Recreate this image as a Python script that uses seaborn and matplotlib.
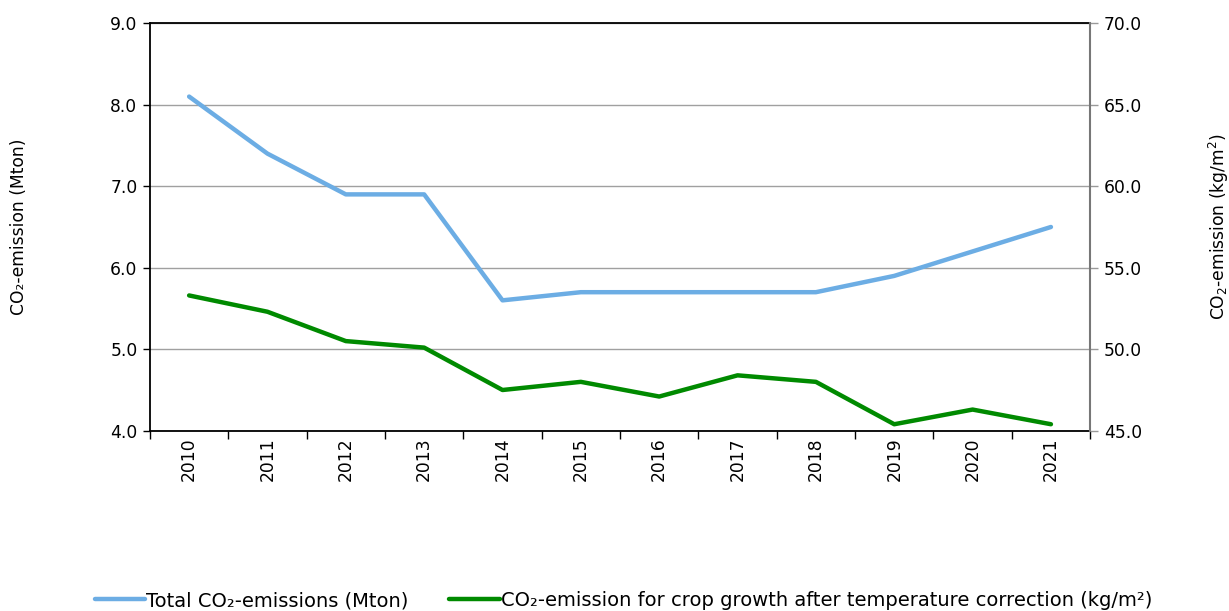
# -*- coding: utf-8 -*-

import numpy as np
import pandas as pd
import matplotlib
matplotlib.use('Agg')
import matplotlib.pyplot as plt
import seaborn as sns

# Data
years = [2010, 2011, 2012, 2013, 2014, 2015, 2016, 2017, 2018, 2019, 2020, 2021]
total_mton = [8.1, 7.4, 6.9, 6.9, 5.6, 5.7, 5.7, 5.7, 5.7, 5.9, 6.2, 6.5]
crop_kg_m2 = [53.3, 52.3, 50.5, 50.1, 47.5, 48.0, 47.1, 48.4, 48.0, 45.4, 46.3, 45.4]

label_total = 'Total CO\u2082-emissions (Mton)'
label_crop = 'CO\u2082-emission for crop growth after temperature correction (kg/m\u00b2)'

df = pd.DataFrame({'year': years, 'total': total_mton, 'crop': crop_kg_m2})

sns.set_style('white')
plt.rcParams['font.family'] = ['DejaVu Sans']
plt.rcParams['text.color'] = 'black'
plt.rcParams['axes.labelcolor'] = 'black'
plt.rcParams['xtick.color'] = 'black'
plt.rcParams['ytick.color'] = 'black'

blue = '#6cade4'
green = '#008a00'
fs = 12.3

fig = plt.figure(figsize=(12.29, 6.11), dpi=100)
ax = fig.add_axes([0.122, 0.295, 0.765, 0.667])
ax2 = ax.twinx()

# Left axis: total emissions
sns.lineplot(data=df, x='year', y='total', ax=ax, color=blue,
             linewidth=3.2, label=label_total, legend=False)
# Right axis: crop growth emission
sns.lineplot(data=df, x='year', y='crop', ax=ax2, color=green,
             linewidth=3.2, label=label_crop, legend=False)

ax.set_xlim(2009.5, 2021.5)
ax.set_ylim(4.0, 9.0)
ax2.set_ylim(45.0, 70.0)

ax.set_yticks(np.arange(4.0, 9.01, 1.0))
ax.set_yticklabels(['{:.1f}'.format(v) for v in np.arange(4.0, 9.01, 1.0)])
ax2.set_yticks(np.arange(45.0, 70.01, 5.0))
ax2.set_yticklabels(['{:.1f}'.format(v) for v in np.arange(45.0, 70.01, 5.0)])

# Year labels centred, tick marks on category boundaries
ax.set_xticks(years)
ax.set_xticklabels([str(y) for y in years], rotation=90)
ax.set_xticks(np.arange(2009.5, 2021.6, 1.0), minor=True)
ax.tick_params(axis='x', which='major', length=0, pad=5, labelsize=fs)
ax.tick_params(axis='x', which='minor', length=6, width=1, color='black',
               bottom=True)
ax.tick_params(axis='y', length=5, width=1, color='black', left=True,
               labelsize=fs, pad=4)
ax2.tick_params(axis='y', length=6, width=1, color='#999999', right=True,
                labelsize=fs, pad=4, labelcolor='black')

# Grid and spines
ax.yaxis.grid(True, color='#a0a0a0', linewidth=1)
ax.set_axisbelow(True)
for side in ['left', 'bottom', 'top']:
    ax.spines[side].set_color('black')
    ax.spines[side].set_linewidth(1.3)
ax.spines['right'].set_visible(False)
ax2.spines['right'].set_color('#777777')
ax2.spines['right'].set_linewidth(1.5)
for side in ['left', 'bottom', 'top']:
    ax2.spines[side].set_visible(False)

ax.set_xlabel('')
ax.set_ylabel('CO\u2082-emission (Mton)', fontsize=fs, labelpad=0)
ax.yaxis.set_label_coords(-0.13, 0.5)
ax2.set_ylabel('CO$_2$-emission (kg/m$^2$)', fontsize=fs)
ax2.yaxis.set_label_coords(1.124, 0.5)

# Legend along the bottom
h1, l1 = ax.get_legend_handles_labels()
h2, l2 = ax2.get_legend_handles_labels()
fig.legend(h1 + h2, l1 + l2, loc='center left', ncol=2, frameon=False,
           bbox_to_anchor=(0.077, 0.017), fontsize=14, handlelength=2.6,
           handletextpad=0.05, columnspacing=2.1, borderpad=0,
           borderaxespad=0)

plt.savefig('out.png', dpi=100)
plt.close()
